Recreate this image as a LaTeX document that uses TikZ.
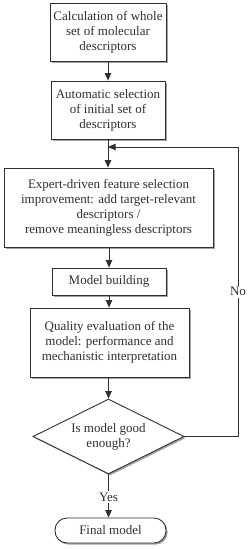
\documentclass[tikz,border=0pt]{standalone}
\usepackage{fontspec}
\setmainfont{Liberation Serif}
\usetikzlibrary{shapes.geometric,arrows.meta,shadows}
\definecolor{ink}{HTML}{303030}
\begin{document}
\begin{tikzpicture}[x=1pt,y=-1pt,
  every node/.style={font=\fontsize{13}{15}\selectfont,text=ink,align=center,inner sep=0pt},
  box/.style={draw=ink,line width=0.9pt,fill=white,
    drop shadow={shadow xshift=1.6pt,shadow yshift=-1.6pt,fill=black!45,opacity=0.8}},
  arr/.style={draw=ink,line width=0.9pt,-{Triangle[length=7.5pt,width=6.5pt]}},
  lab/.style={fill=white,inner sep=1.5pt}]
\useasboundingbox (0,0) rectangle (250,549);
\node[box,minimum width=116,minimum height=58] (b1) at (108,32)
  {Calculation of whole\\set of molecular\\descriptors};
\node[box,minimum width=114,minimum height=58] (b2) at (108,110)
  {Automatic selection\\of initial set of\\descriptors};
\node[box,minimum width=209,minimum height=79] (b3) at (108.5,207.5)
  {Expert-driven feature selection\\improvement: add target-relevant\\descriptors /\\remove meaningless descriptors};
\node[box,minimum width=114,minimum height=27] (b4) at (109,281.5)
  {Model building};
\node[box,minimum width=159,minimum height=69] (b5) at (109.5,342.5)
  {Quality evaluation of the\\model: performance and\\mechanistic interpretation};
\node[box,diamond,aspect=2,minimum width=151,minimum height=75,inner sep=0pt] (d) at (108.5,436.5)
  {Is model good\\enough?};
\node[box,rounded corners=12pt,minimum width=111,minimum height=25] (f) at (110.5,530.5)
  {Final model};
\coordinate (m) at (108,147);
\coordinate (c1) at (238,436.5);
\coordinate (c2) at (238,147);
\draw[arr] (b1.south) -- (b1.south |- b2.north);
\draw[arr] (b2.south) -- (b2.south |- b3.north);
\draw[arr] (b3.south -| b4.north) -- (b4.north);
\draw[arr] (b4.south) -- (b4.south |- b5.north);
\draw[arr] (b5.south -| d.north) -- (d.north);
\draw[arr] (d.south) -- node[lab,pos=0.52] {Yes} (d.south |- f.north);
\draw[arr] (d.east) -- (c1) -- node[lab,pos=0.5] {No} (c2) -- (m);
\end{tikzpicture}
\end{document}
